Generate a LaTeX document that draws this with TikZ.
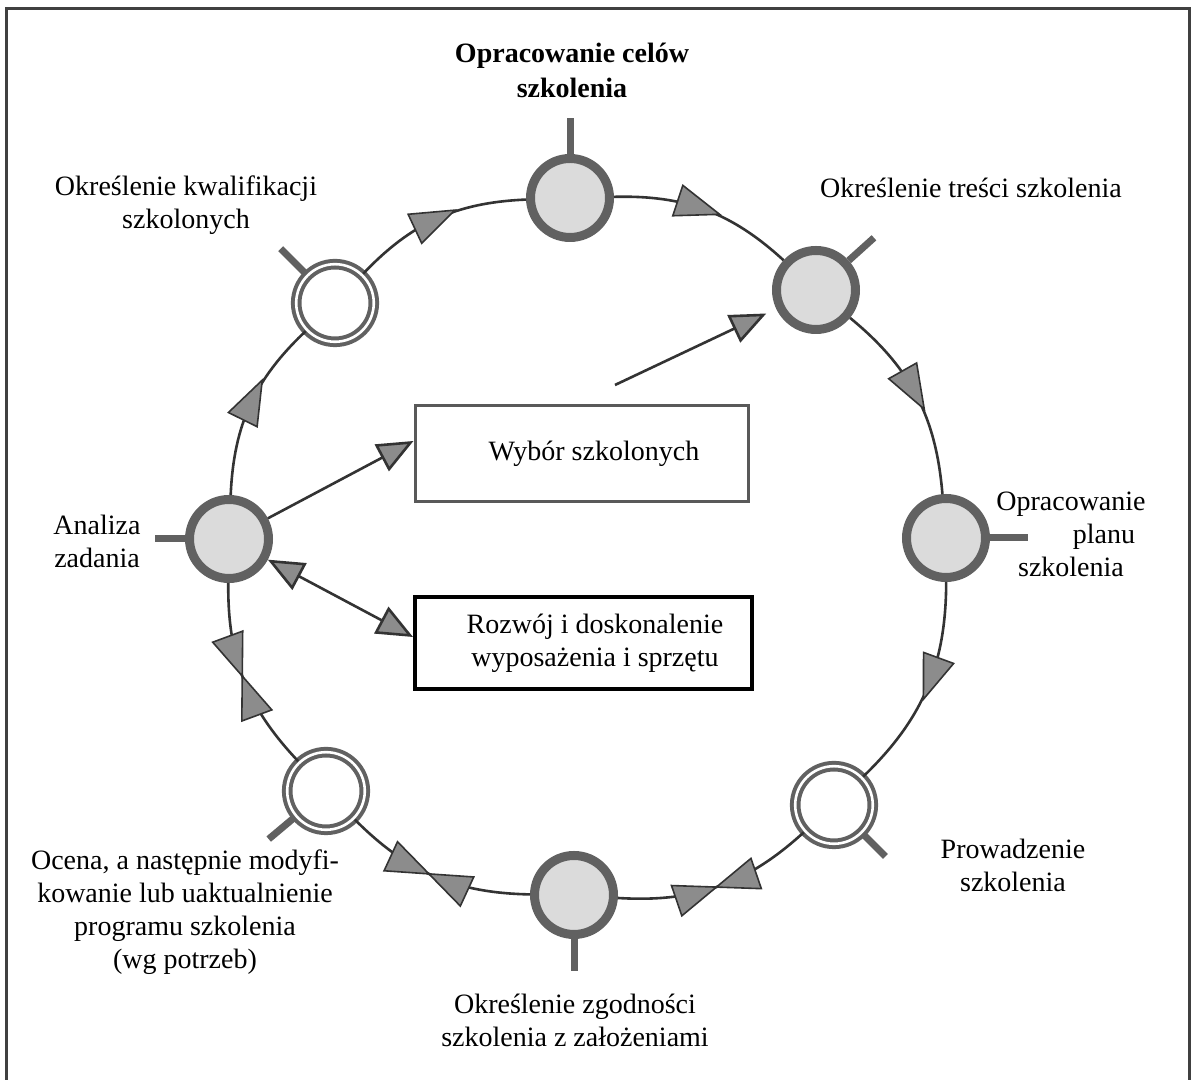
\documentclass[tikz,border=0pt]{standalone}
\usepackage{fontspec}
\setmainfont{Liberation Serif}
\newfontfamily\serifA{Liberation Serif}
\usetikzlibrary{arrows.meta,decorations.markings}
\definecolor{ringc}{gray}{0.38}
\definecolor{linec}{gray}{0.2}
\definecolor{trifill}{gray}{0.55}
\definecolor{dotfill}{gray}{0.86}
\tikzset{
 fullnode/.style={circle, draw=ringc, line width=4.5pt, fill=dotfill, minimum size=39.5pt, inner sep=0pt},
 hollownode/.style={circle, draw=ringc, line width=2pt, double=white, double distance=1.3pt, fill=white, minimum size=38.8pt, inner sep=0pt},
 stemline/.style={draw=ringc, line width=3.5pt},
 conn/.style={draw=linec, line width=1.3pt},
 tri/.style={fill=trifill, draw=linec, line width=0.8pt, line join=miter},
 fwd/.style={postaction={decorate, decoration={markings, mark=at position #1 with {\draw[tri] (11pt,0pt) -- (-11pt,8pt) -- (-11pt,-8pt) -- cycle;}}}},
 bow/.style={postaction={decorate, decoration={markings, mark=at position #1 with {\draw[tri] (0pt,0pt) -- (-21pt,8pt) -- (-21pt,-8pt) -- cycle; \draw[tri] (0pt,0pt) -- (21pt,8pt) -- (21pt,-8pt) -- cycle;}}}},
 tipA/.tip={Triangle[length=18pt,width=15pt,fill=trifill]},
 sarr/.style={-tipA},
 darr/.style={tipA-tipA},
 lbl/.style={font=\serifA\fontsize{14}{16.5}\selectfont, align=center, inner sep=0pt},
 boxthin/.style={draw=black!65, line width=1.5pt, inner sep=0pt, align=center, font=\serifA\fontsize{14}{16.5}\selectfont},
 boxthick/.style={draw=black, line width=2pt, inner sep=0pt, align=center, font=\serifA\fontsize{14}{16.5}\selectfont},
 frame/.style={draw=black!75, line width=1.5pt}
}
\begin{document}
\begin{tikzpicture}[x=0.5pt,y=0.5pt]
\useasboundingbox (0,0) rectangle (1191,1080);
\fill[white] (0,0) rectangle (1191,1080);
\draw[frame] (6,0) -- (6,1071) -- (1189,1071) -- (1189,0);

% ring nodes
\node[fullnode]   (nTop) at (570,882) {};
\node[fullnode]   (nTR)  at (816,790) {};
\node[fullnode]   (nR)   at (946,542) {};
\node[hollownode] (nLR)  at (834,275) {};
\node[fullnode]   (nB)   at (574,185) {};
\node[hollownode] (nLL)  at (326,289) {};
\node[fullnode]   (nL)   at (229,541) {};
\node[hollownode] (nTL)  at (335,777) {};

% stems
\draw[stemline] (nTop.north) -- ++(90:36);
\draw[stemline] (nTR.42) -- ++(42:34);
\draw[stemline] (nR.east) -- ++(0:38);
\draw[stemline] (nLR.-45) -- ++(-45:32);
\draw[stemline] (nB.south) -- ++(-90:32);
\draw[stemline] (nLL.220) -- ++(220:34);
\draw[stemline] (nL.west) -- ++(180:30);
\draw[stemline] (nTL.135) -- ++(135:36);

% ring connectors
\draw[conn, fwd=0.49] (nTL) to[bend left=22] (nTop);
\draw[conn, fwd=0.46] (nTop) to[bend left=22] (nTR);
\draw[conn, fwd=0.47] (nTR) to[bend left=23] (nR);
\draw[conn, fwd=0.45] (nR) to[bend left=23] (nLR);
\draw[conn, bow=0.51] (nLR) to[bend left=23] (nB);
\draw[conn, bow=0.53] (nB) to[bend left=22] (nLL);
\draw[conn, bow=0.52] (nLL) to[bend left=22] (nL);
\draw[conn, fwd=0.53] (nL) to[bend left=22] (nTL);

% boxes
\node[boxthin, minimum width=166.5pt, minimum height=48pt] (wybor) at (581.5,626) {\hspace*{12.5pt}Wybór szkolonych};
\node[boxthick, minimum width=168.5pt, minimum height=46pt] (rozwoj) at (583.5,437) {\hspace*{11.5pt}Rozwój i doskonalenie\\\hspace*{11.5pt}wyposażenia i sprzętu};

% straight arrows
\coordinate (tail) at (615,695);
\draw[conn, sarr, shorten >=5.5pt] (tail) -- (nTR);
\draw[conn, sarr] (nL) -- ([yshift=6.5pt]wybor.west);
\draw[conn, darr] (nL) -- ([yshift=3pt]rozwoj.west);

% labels
\node[lbl, font=\serifA\fontsize{14}{17.5}\selectfont\bfseries] (tTop) at (572,1010) {Opracowanie celów\\szkolenia};
\node[lbl] (tTL) at (186,875) {Określenie kwalifikacji\\szkolonych};
\node[lbl] (tTR) at (971,892) {Określenie treści szkolenia};
\node[lbl] (tR)  at (1071,546) {Opracowanie\\\hspace*{33pt}planu\\szkolenia};
\node[lbl] (tL)  at (97,539) {Analiza\\zadania};
\node[lbl] (tLR) at (1013,215) {Prowadzenie\\szkolenia};
\node[lbl] (tLL) at (185,168) {Ocena, a następnie modyfi-\\kowanie lub uaktualnienie\\programu szkolenia\\(wg potrzeb)};
\node[lbl] (tB)  at (575,60) {Określenie zgodności\\szkolenia z założeniami};
\end{tikzpicture}
\end{document}
